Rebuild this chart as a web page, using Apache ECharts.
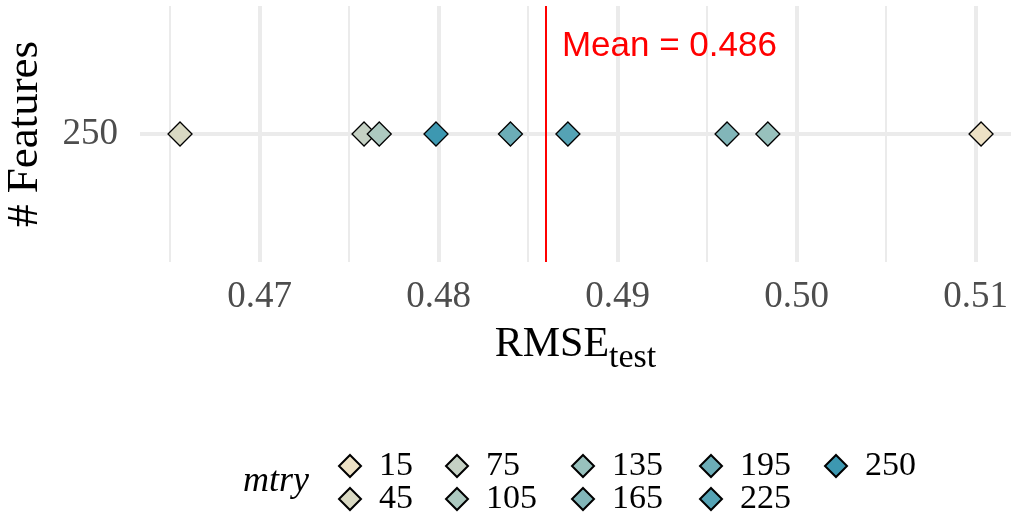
<!DOCTYPE html>
<html>
<head>
<meta charset="utf-8">
<script src="https://cdn.jsdelivr.net/npm/echarts@6/dist/echarts.min.js"></script>
<style>
html,body{margin:0;padding:0;background:#fff;}
#chart{width:1011px;height:521px;}
</style>
</head>
<body>
<div id="chart"></div>
<script>
// ---- data ----
const featureCategories = ['250'];
const mtryLevels = ['15', '45', '75', '105', '135', '165', '195', '225', '250'];
const rmseValues = [0.51031, 0.46556, 0.47584, 0.47669, 0.49840, 0.49612, 0.48402, 0.48723, 0.47986];
const meanValue = 0.486;
const xTickValues = [0.47, 0.48, 0.49, 0.50, 0.51];
const xMinorValues = [0.465, 0.475, 0.485, 0.495, 0.505];
const palette = ['#EDE1C5', '#D9D9C3', '#C5D1C4', '#ADC9C0', '#98C1BD', '#82B6B9', '#6CADB7', '#55A3B5', '#3D98B1'];

// ---- layout ----
const SERIF = 'Liberation Serif';
const legendCenters = [[344, 463], [344, 496], [451, 463], [451, 496], [577, 463], [577, 496], [705, 463], [705, 496], [830, 463]];

const series = [];
// gridlines helper
series.push({
  type: 'scatter', name: '_grid', data: [], silent: true,
  markLine: {
    z: 0, silent: true, symbol: ['none', 'none'], animation: false, precision: 6,
    label: { show: false },
    data: [
      ...xTickValues.map(v => ({ xAxis: v, lineStyle: { color: '#ebebeb', width: 4, type: 'solid' } })),
      ...xMinorValues.map(v => ({ xAxis: v, lineStyle: { color: '#ebebeb', width: 2, type: 'solid' } })),
      ...featureCategories.map(c => ({ yAxis: c, lineStyle: { color: '#ebebeb', width: 4, type: 'solid' } }))
    ]
  }
});
// mean line + label
series.push({
  type: 'scatter', name: '_mean', data: [], silent: true,
  markLine: {
    z: 1, silent: true, symbol: ['none', 'none'], animation: false, precision: 6,
    label: { show: false },
    data: [{ xAxis: meanValue, lineStyle: { color: '#ff0000', width: 2, type: 'solid' } }]
  },
  markPoint: {
    z: 1, silent: true, animation: false, precision: 6,
    data: [{
      coord: [meanValue, featureCategories[0]], symbol: 'circle', symbolSize: 0,
      label: {
        show: true, position: 'right', distance: 0, offset: [16, -88],
        formatter: 'Mean = ' + meanValue.toFixed(3),
        color: '#ff0000', fontSize: 35, fontFamily: 'Liberation Sans'
      }
    }]
  }
});
mtryLevels.forEach((m, i) => {
  series.push({
    type: 'scatter', name: m, z: 3,
    symbol: 'diamond', symbolSize: 24,
    itemStyle: { color: palette[i], borderColor: '#000', borderWidth: 1.3, opacity: 1 },
    data: [[rmseValues[i], featureCategories[0]]]
  });
});

const legends = mtryLevels.map((m, i) => ({
  data: [m], left: legendCenters[i][0] - 11, top: legendCenters[i][1] - 19,
  icon: 'diamond', itemWidth: 22, itemHeight: 22, selectedMode: false,
  textStyle: { fontFamily: SERIF, fontSize: 34, color: '#000', padding: [0, 0, 0, 13] }
}));

const option = {
  backgroundColor: '#fff',
  animation: false,
  title: {
    text: 'mtry', left: 238, top: 459,
    textStyle: { fontFamily: SERIF, fontStyle: 'italic', fontWeight: 'normal', fontSize: 36, color: '#000' }
  },
  legend: legends,
  grid: { left: 140, right: 0, top: 6, bottom: 259, containLabel: false, outerBoundsMode: 'none' },
  xAxis: {
    type: 'value', min: 0.463324, max: 0.511983,
    axisLine: { show: false }, axisTick: { show: false, customValues: xTickValues },
    splitLine: { show: false },
    axisLabel: {
      customValues: xTickValues, margin: 17,
      fontFamily: SERIF, fontSize: 37, color: '#4d4d4d',
      formatter: v => Number(v).toFixed(2)
    },
    name: '{a|RMSE}{b|test}', nameLocation: 'middle', nameGap: 52,
    nameTextStyle: {
      rich: {
        a: { fontFamily: SERIF, fontSize: 42, color: '#000' },
        b: { fontFamily: SERIF, fontSize: 34, color: '#000', padding: [27, 0, 0, 0] }
      }
    }
  },
  yAxis: {
    type: 'category', data: featureCategories,
    axisLine: { show: false }, axisTick: { show: false }, splitLine: { show: false },
    axisLabel: { margin: 22, fontFamily: SERIF, fontSize: 37, color: '#4d4d4d' },
    name: '# Features', nameLocation: 'middle', nameGap: 92,
    nameTextStyle: { fontFamily: SERIF, fontSize: 45, color: '#000' }
  },
  series: series
};

const chart = echarts.init(document.getElementById('chart'), null, { renderer: 'canvas' });
chart.setOption(option);
</script>
</body>
</html>
